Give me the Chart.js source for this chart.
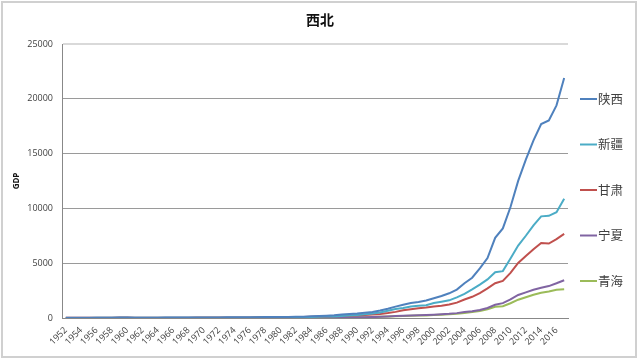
<!DOCTYPE html>
<html><head><meta charset="utf-8">
<script src="https://cdn.jsdelivr.net/npm/chart.js@4"></script>
<style>html,body{margin:0;padding:0;background:#fff}canvas{display:block}</style>
</head><body>
<div style="width:640px;height:360px"><canvas id="c" width="640" height="360"></canvas></div>
<script>
const chartTitle = '西北';
const yAxisTitle = 'GDP';
const years = [];
for (let y = 1952; y <= 2017; y++) years.push(String(y));
const yTicks = [0, 5000, 10000, 15000, 20000, 25000];

const seriesNames = ['陕西', '新疆', '甘肃', '宁夏', '青海'];
const shaanxi = [14,17,20,22,25,27,33,38,40,32,29,31,34,39,42,40,37,42,48,53,54,58,59,64,62,68,
  81,94,95,102,111,123,149,181,208,244,314,358,404,468,538,678,839,1036,1215,1363,1458,1593,1804,2011,2253,2588,3176,3676,4524,5466,7315,8170,10123,12512,14454,16205,17690,18022,19400,21899];
const xinjiang = [8,9,10,11,12,14,17,20,23,21,17,18,20,22,24,22,19,21,25,27,28,30,31,34,33,35,
  39,45,53,59,65,79,92,112,129,148,193,218,274,336,402,495,662,815,912,1050,1117,1169,1364,1491,1612,1886,2209,2604,3045,3523,4183,4277,5437,6610,7505,8443,9273,9325,9650,10882];
const gansu = [14,16,19,21,22,24,30,36,38,28,24,26,28,31,34,33,30,35,40,44,45,48,50,54,52,59,
  64,68,74,70,77,91,103,123,141,159,192,216,242,272,317,373,453,558,714,794,888,956,1052,1125,1232,1399,1688,1934,2277,2703,3176,3388,4121,5020,5650,6268,6837,6790,7200,7677];
const ningxia = [2,2,3,3,3,4,5,6,6,5,4,4,5,6,6,6,5,6,7,8,8,9,9,10,10,12,
  13,14,16,17,19,22,26,31,35,40,50,57,65,71,84,104,134,175,202,225,245,264,295,337,377,445,537,612,725,919,1203,1353,1690,2102,2341,2577,2752,2912,3169,3444];
const qinghai = [2,2,3,3,4,4,6,7,7,5,4,4,5,6,6,6,5,6,7,8,9,9,10,11,11,14,
  16,17,18,18,20,23,26,33,37,41,54,60,70,76,88,109,138,167,184,202,220,239,264,300,341,390,466,543,641,784,1018,1081,1350,1670,1894,2122,2303,2417,2572,2625];
const seriesValues = [shaanxi, xinjiang, gansu, ningxia, qinghai];
const seriesColors = ['#4F81BD', '#4BACC6', '#C0504D', '#8064A2', '#9BBB59'];

const datasets = seriesNames.map((n, i) => ({
  label: n, data: seriesValues[i], borderColor: seriesColors[i], backgroundColor: seriesColors[i],
  borderWidth: 2, pointRadius: 0, tension: 0, fill: false, order: i
}));

const decor = {
  id: 'decor',
  beforeDraw(chart) {
    const ctx = chart.ctx;
    ctx.save();
    ctx.fillStyle = '#fff';
    ctx.fillRect(0, 0, 640, 360);
    ctx.strokeStyle = '#d0d0d0';
    ctx.lineWidth = 2;
    ctx.strokeRect(2, 2, 634, 355);
    ctx.restore();
  },
  afterDraw(chart) {
    const ctx = chart.ctx;
    ctx.save();
    ctx.fillStyle = '#111';
    ctx.font = 'bold 14px "Noto Sans CJK SC"';
    ctx.textAlign = 'center';
    ctx.textBaseline = 'middle';
    ctx.fillText(chartTitle, 320, 20);
    // legend
    ctx.font = '12.5px "Noto Sans CJK SC"';
    ctx.textAlign = 'left';
    chart.data.datasets.forEach((ds, i) => {
      const y = 99 + i * 45.5;
      ctx.strokeStyle = ds.borderColor;
      ctx.lineWidth = 2;
      ctx.beginPath(); ctx.moveTo(580, y); ctx.lineTo(597, y); ctx.stroke();
      ctx.fillStyle = '#404040';
      ctx.fillText(ds.label, 598, y);
    });
    ctx.restore();
  }
};

new Chart(document.getElementById('c'), {
  type: 'line',
  data: { labels: years, datasets: datasets },
  options: {
    responsive: false, animation: false,
    layout: { padding: { top: 44, right: 72, left: 0, bottom: 0 } },
    plugins: { legend: { display: false }, title: { display: false }, tooltip: { enabled: false } },
    scales: {
      x: {
        offset: true,
        grid: { display: false, drawTicks: false },
        border: { color: '#888', width: 1 },
        ticks: {
          autoSkip: false, maxRotation: 45, minRotation: 45, padding: 7,
          color: '#404040', font: { size: 9, family: 'Open Sans' },
          callback: function(v, i) { return i % 2 === 0 ? this.getLabelForValue(v) : ''; }
        },
        afterFit(s) { s.height = 42; }
      },
      y: {
        min: 0, max: 25000,
        afterBuildTicks(s) { s.ticks = yTicks.map(v => ({ value: v })); },
        grid: {
          drawTicks: false,
          color: c => c.tick && c.tick.value === 25000 ? '#d9d9d9' : '#9a9a9a',
          lineWidth: c => c.tick && c.tick.value === 25000 ? 2 : 1
        },
        border: { color: '#888', width: 1 },
        ticks: { padding: 9, color: '#404040', font: { size: 9, family: 'Open Sans' },
          callback: v => String(v) },
        title: { display: true, text: yAxisTitle, color: '#111', font: { size: 8, weight: 'bold', family: 'Open Sans' }, padding: { top: 12, bottom: 0 } },
        afterFit(s) { s.width = 62; }
      }
    }
  },
  plugins: [decor]
});
</script>
</body></html>
